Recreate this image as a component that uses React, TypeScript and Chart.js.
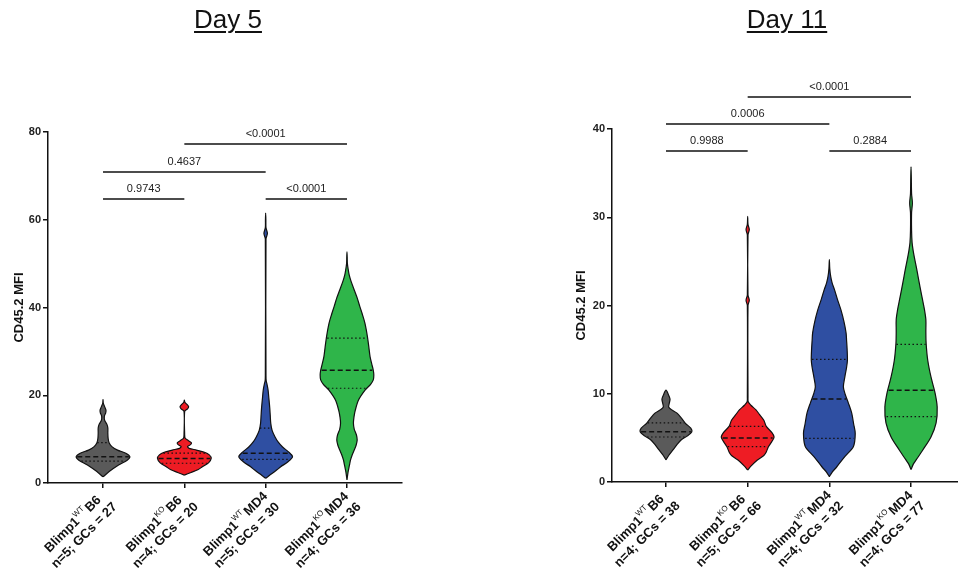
import React, { useEffect, useRef } from 'react';
import { Chart, registerables } from 'chart.js';

Chart.register(...registerables);

const FAMILY = "'Liberation Sans', Arial, Helvetica, sans-serif";

// ---------- categories / labels ----------
const groupPositions = [1, 2, 3, 4];
const genotypeSup = ['WT', 'KO', 'WT', 'KO'];
const strainNames = ['B6', 'B6', 'MD4', 'MD4'];
const day5Counts = ['n=5; GCs = 27', 'n=4; GCs = 20', 'n=5; GCs = 30', 'n=4; GCs = 36'];
const day11Counts = ['n=4; GCs = 38', 'n=5; GCs = 66', 'n=4; GCs = 32', 'n=4; GCs = 77'];
const groupColors = ['#5a5a5a', '#ee1c24', '#2f4fa2', '#2fb54a'];

const day5YTicks = [0, 20, 40, 60, 80];
const day11YTicks = [0, 10, 20, 30, 40];

// ---------- violin profiles: [CD45.2 MFI value, relative density 0..1] ----------
const day5WtB6: [number, number][] = [
  [1.4, 0], [2.6, 0.23], [4.1, 0.58], [5.2, 0.9], [6.0, 1.0], [6.8, 0.85], [7.5, 0.54], [8.3, 0.33],
  [9.1, 0.23], [10.2, 0.19], [11.4, 0.18], [12.5, 0.18], [13.3, 0.15], [14.3, 0.06], [15.2, 0.05],
  [16.0, 0.1], [16.6, 0.11], [17.4, 0.06], [18.2, 0.01], [19.0, 0],
];
const day5KoB6: [number, number][] = [
  [1.8, 0], [2.4, 0.25], [3.0, 0.5], [3.7, 0.67], [4.6, 0.9], [5.6, 1.0], [6.4, 0.93], [7.0, 0.75],
  [7.5, 0.45], [7.9, 0.18], [8.3, 0.12], [8.8, 0.24], [9.2, 0.26], [9.7, 0.14], [10.2, 0.03],
  [11.0, 0.012], [16.3, 0.012], [16.9, 0.12], [17.4, 0.16], [17.9, 0.1], [18.4, 0.02], [18.9, 0],
];
const day5WtMd4: [number, number][] = [
  [1.1, 0], [2.2, 0.25], [3.0, 0.42], [3.7, 0.56], [4.8, 0.82], [6.0, 1.0], [7.1, 0.85], [8.2, 0.63],
  [9.3, 0.47], [10.5, 0.35], [12.0, 0.24], [13.6, 0.19], [15.5, 0.17], [17.3, 0.15], [19.3, 0.12],
  [21.2, 0.09], [22.5, 0.05], [23.3, 0.02], [24.5, 0.012], [55.6, 0.012], [56.9, 0.065],
  [58.2, 0.012], [60.0, 0.008], [61.5, 0],
];
const day5KoMd4: [number, number][] = [
  [0.7, 0], [2.5, 0.04], [4.0, 0.09], [5.2, 0.13], [6.5, 0.2], [7.5, 0.27], [8.6, 0.34], [9.8, 0.38],
  [11.0, 0.35], [12.3, 0.27], [13.6, 0.24], [15.0, 0.26], [16.6, 0.31], [18.9, 0.43], [21.2, 0.68],
  [22.5, 0.88], [23.5, 0.98], [24.6, 1.0], [25.7, 0.98], [27.2, 0.92], [28.8, 0.86], [30.7, 0.82],
  [32.6, 0.78], [34.5, 0.73], [36.4, 0.67], [38.3, 0.58], [40.2, 0.48], [42.2, 0.38], [44.0, 0.27],
  [46.0, 0.15], [47.5, 0.08], [48.5, 0.05], [50.0, 0.015], [51.5, 0.008], [52.7, 0],
];

const day11WtB6: [number, number][] = [
  [2.5, 0], [3.0, 0.1], [3.6, 0.25], [4.2, 0.4], [4.76, 0.56], [5.2, 0.78], [5.7, 0.96], [6.1, 0.92],
  [6.65, 0.72], [7.2, 0.58], [7.8, 0.41], [8.2, 0.2], [8.5, 0.1], [8.9, 0.12], [9.4, 0.15],
  [9.9, 0.09], [10.4, 0],
];
const day11KoB6: [number, number][] = [
  [1.36, 0], [1.8, 0.12], [2.5, 0.36], [3.0, 0.6], [3.4, 0.69], [4.0, 0.77], [4.6, 0.9], [5.1, 0.98],
  [5.6, 0.9], [6.3, 0.69], [7.0, 0.6], [7.6, 0.45], [8.2, 0.3], [8.7, 0.12], [9.1, 0.02],
  [9.6, 0.012], [20.0, 0.012], [20.6, 0.06], [21.2, 0.012], [28.0, 0.012], [28.6, 0.06],
  [29.2, 0.012], [30.1, 0],
];
const day11WtMd4: [number, number][] = [
  [0.6, 0], [1.1, 0.1], [1.7, 0.27], [2.9, 0.58], [4.0, 0.89], [5.5, 0.96], [6.6, 0.9], [7.8, 0.83],
  [9.0, 0.7], [10.0, 0.58], [10.8, 0.52], [12.0, 0.58], [13.0, 0.64], [13.8, 0.67], [15.0, 0.66],
  [16.0, 0.64], [16.9, 0.62], [18.2, 0.54], [19.5, 0.43], [20.7, 0.3], [21.8, 0.19], [22.6, 0.1],
  [23.3, 0.05], [24.2, 0.015], [25.2, 0],
];
const day11KoMd4: [number, number][] = [
  [1.4, 0], [2.0, 0.08], [2.5, 0.19], [3.6, 0.43], [5.1, 0.74], [6.7, 0.93], [8.5, 0.97], [10.1, 0.89],
  [11.9, 0.74], [13.8, 0.62], [15.7, 0.56], [17.0, 0.55], [18.4, 0.55], [19.5, 0.5], [20.6, 0.43],
  [22.0, 0.34], [23.3, 0.26], [24.3, 0.2], [25.2, 0.14], [26.2, 0.08], [27.1, 0.04], [28.5, 0.02],
  [30.5, 0.02], [31.6, 0.05], [32.7, 0.02], [34.5, 0.01], [35.7, 0],
];

// ---------- quartiles: [Q1, median, Q3] ----------
const day5Quartiles: [number, number, number][] = [
  [5.0, 6.0, 9.2], [4.5, 5.6, 6.8], [5.4, 6.8, 12.5], [21.6, 25.7, 33.0],
];
const day11Quartiles: [number, number, number][] = [
  [5.1, 5.7, 6.7], [4.0, 5.0, 6.3], [4.95, 9.4, 13.9], [7.4, 10.4, 15.6],
];

// ---------- significance brackets: [from group, to group, level, p-value label] ----------
const day5Brackets: [number, number, number, string][] = [
  [1, 2, 64.7, '0.9743'], [3, 4, 64.7, '<0.0001'], [1, 3, 70.9, '0.4637'], [2, 4, 77.3, '<0.0001'],
];
const day11Brackets: [number, number, number, string][] = [
  [1, 2, 37.5, '0.9988'], [3, 4, 37.5, '0.2884'], [1, 3, 40.6, '0.0006'], [2, 4, 43.6, '<0.0001'],
];

const HALF_WIDTH = 0.33;

function violinPoints(profile: [number, number][], cx: number) {
  const right = profile.map(([v, d]) => ({ x: cx + d * HALF_WIDTH, y: v }));
  const left = profile
    .slice()
    .reverse()
    .map(([v, d]) => ({ x: cx - d * HALF_WIDTH, y: v }));
  return right.concat(left.slice(1));
}

function densityAt(profile: [number, number][], v: number) {
  for (let i = 1; i < profile.length; i++) {
    const [v0, d0] = profile[i - 1];
    const [v1, d1] = profile[i];
    if (v >= v0 && v <= v1) {
      const t = (v - v0) / (v1 - v0 || 1);
      return d0 + (d1 - d0) * t;
    }
  }
  return 0;
}

function buildDatasets(profiles: [number, number][][], quartiles: [number, number, number][]) {
  const sets: any[] = [];
  profiles.forEach((p, i) => {
    const cx = groupPositions[i];
    sets.push({
      type: 'line',
      data: violinPoints(p, cx),
      borderColor: '#111',
      borderWidth: 1.2,
      backgroundColor: groupColors[i],
      fill: 'shape',
      pointRadius: 0,
      tension: 0.3,
      order: 2,
    });
    quartiles[i].forEach((q, k) => {
      const w = densityAt(p, q) * HALF_WIDTH * 0.96;
      sets.push({
        type: 'line',
        data: [
          { x: cx - w, y: q },
          { x: cx + w, y: q },
        ],
        borderColor: '#111',
        borderWidth: k === 1 ? 1.5 : 1.2,
        borderDash: k === 1 ? [5, 3] : [1.5, 2.5],
        fill: false,
        pointRadius: 0,
        tension: 0,
        order: 1,
      });
    });
  });
  return sets;
}

function xLabelPlugin(counts: string[]) {
  return {
    id: 'xLabels',
    afterDraw(chart: any) {
      const { ctx, chartArea } = chart;
      const xs = chart.scales.x;
      const big = `bold 13px ${FAMILY}`;
      const sup = `8px ${FAMILY}`;
      groupPositions.forEach((g, i) => {
        const px = xs.getPixelForValue(g);
        const py = chartArea.bottom;
        ctx.save();
        ctx.translate(px, py);
        ctx.rotate(-Math.PI / 4);
        ctx.fillStyle = '#111';
        ctx.textBaseline = 'middle';
        ctx.font = big;
        const wa = ctx.measureText('Blimp1').width;
        const wc = ctx.measureText(strainNames[i]).width;
        const w2 = ctx.measureText(counts[i]).width;
        ctx.font = sup;
        const wb = ctx.measureText(genotypeSup[i]).width;
        const gap = 1.5;
        const w1 = wa + wb + gap + wc;
        const maxW = Math.max(w1, w2);
        const cu = -7 - maxW / 2;
        const v1 = 8;
        const v2 = 24;
        ctx.textAlign = 'left';
        let u = cu - w1 / 2;
        ctx.font = big;
        ctx.fillText('Blimp1', u, v1);
        u += wa;
        ctx.font = sup;
        ctx.fillText(genotypeSup[i], u, v1 - 5);
        u += wb + gap;
        ctx.font = big;
        ctx.fillText(strainNames[i], u, v1);
        ctx.textAlign = 'center';
        ctx.fillText(counts[i], cu, v2);
        ctx.restore();
      });
    },
  };
}

function bracketPlugin(brackets: [number, number, number, string][]) {
  return {
    id: 'brackets',
    afterDraw(chart: any) {
      const { ctx } = chart;
      const xs = chart.scales.x;
      const ys = chart.scales.y;
      ctx.save();
      ctx.strokeStyle = '#111';
      ctx.lineWidth = 1.5;
      ctx.fillStyle = '#222';
      ctx.font = `11px ${FAMILY}`;
      ctx.textAlign = 'center';
      ctx.textBaseline = 'middle';
      brackets.forEach(([a, b, lvl, label]) => {
        const x1 = xs.getPixelForValue(a);
        const x2 = xs.getPixelForValue(b);
        const y = Math.round(ys.getPixelForValue(lvl));
        ctx.beginPath();
        ctx.moveTo(x1, y);
        ctx.lineTo(x2, y);
        ctx.stroke();
        ctx.fillText(label, (x1 + x2) / 2, y - 10);
      });
      ctx.restore();
    },
  };
}

interface PanelCfg {
  profiles: [number, number][][];
  quartiles: [number, number, number][];
  brackets: [number, number, number, string][];
  counts: string[];
  yTicks: number[];
  xMin: number;
  xMax: number;
  padding: { left: number; right: number; top: number; bottom: number };
  titlePad: number;
}

function makeConfig(c: PanelCfg): any {
  const axisGrid = {
    drawOnChartArea: false,
    drawTicks: true,
    tickLength: 5,
    color: '#111',
    lineWidth: 1.5,
  };
  const axisBorder = { display: true, color: '#111', width: 1.5 };
  return {
    type: 'line',
    data: { datasets: buildDatasets(c.profiles, c.quartiles) },
    options: {
      animation: false,
      responsive: false,
      maintainAspectRatio: false,
      layout: { padding: c.padding },
      plugins: { legend: { display: false }, tooltip: { enabled: false }, title: { display: false } },
      scales: {
        x: {
          type: 'linear',
          min: c.xMin,
          max: c.xMax,
          afterBuildTicks: (s: any) => {
            s.ticks = groupPositions.map((v) => ({ value: v }));
          },
          afterFit: (s: any) => {
            s.height = 10;
          },
          ticks: { display: false },
          grid: axisGrid,
          border: axisBorder,
        },
        y: {
          type: 'linear',
          min: c.yTicks[0],
          max: c.yTicks[c.yTicks.length - 1],
          afterBuildTicks: (s: any) => {
            s.ticks = c.yTicks.map((v) => ({ value: v }));
          },
          afterFit: (s: any) => {
            s.width = 40;
          },
          ticks: { font: { family: FAMILY, size: 11, weight: 'bold' }, color: '#222', padding: 2 },
          grid: axisGrid,
          border: axisBorder,
          title: {
            display: true,
            text: 'CD45.2 MFI',
            font: { family: FAMILY, size: 13, weight: 'bold' },
            color: '#111',
            padding: { top: c.titlePad, bottom: 0 },
          },
        },
      },
    },
    plugins: [bracketPlugin(c.brackets), xLabelPlugin(c.counts)],
  };
}

const leftCfg: PanelCfg = {
  profiles: [day5WtB6, day5KoB6, day5WtMd4, day5KoMd4],
  quartiles: day5Quartiles,
  brackets: day5Brackets,
  counts: day5Counts,
  yTicks: day5YTicks,
  xMin: 0.3235,
  xMax: 4.6765,
  padding: { left: 8, right: 77, top: 132, bottom: 80 },
  titlePad: 4,
};

const rightCfg: PanelCfg = {
  profiles: [day11WtB6, day11KoB6, day11WtMd4, day11KoMd4],
  quartiles: day11Quartiles,
  brackets: day11Brackets,
  counts: day11Counts,
  yTicks: day11YTicks,
  xMin: 0.339,
  xMax: 4.575,
  padding: { left: 93, right: 0, top: 129, bottom: 81 },
  titlePad: 2,
};

function Panel({ cfg, left }: { cfg: PanelCfg; left: number }) {
  const ref = useRef<HTMLCanvasElement | null>(null);
  useEffect(() => {
    if (!ref.current) return;
    const chart = new Chart(ref.current, makeConfig(cfg));
    return () => chart.destroy();
  }, [cfg]);
  return (
    <canvas
      ref={ref}
      width={479}
      height={573}
      style={{ position: 'absolute', left, top: 0, width: 479, height: 573 }}
    />
  );
}

const titleStyle = (cx: number): React.CSSProperties => ({
  position: 'absolute',
  top: 4,
  left: cx - 100,
  width: 200,
  textAlign: 'center',
  fontFamily: FAMILY,
  fontSize: 26,
  lineHeight: '30px',
  color: '#111',
  textDecoration: 'underline',
  textDecorationThickness: '2px',
  textUnderlineOffset: '3px',
  zIndex: 2,
});

export default function App() {
  return (
    <div
      style={{
        position: 'fixed',
        left: 0,
        top: 0,
        width: 958,
        height: 573,
        overflow: 'hidden',
        background: '#fff',
      }}
    >
      <Panel cfg={leftCfg} left={0} />
      <Panel cfg={rightCfg} left={479} />
      <div style={titleStyle(228)}>Day 5</div>
      <div style={titleStyle(787)}>Day 11</div>
    </div>
  );
}
